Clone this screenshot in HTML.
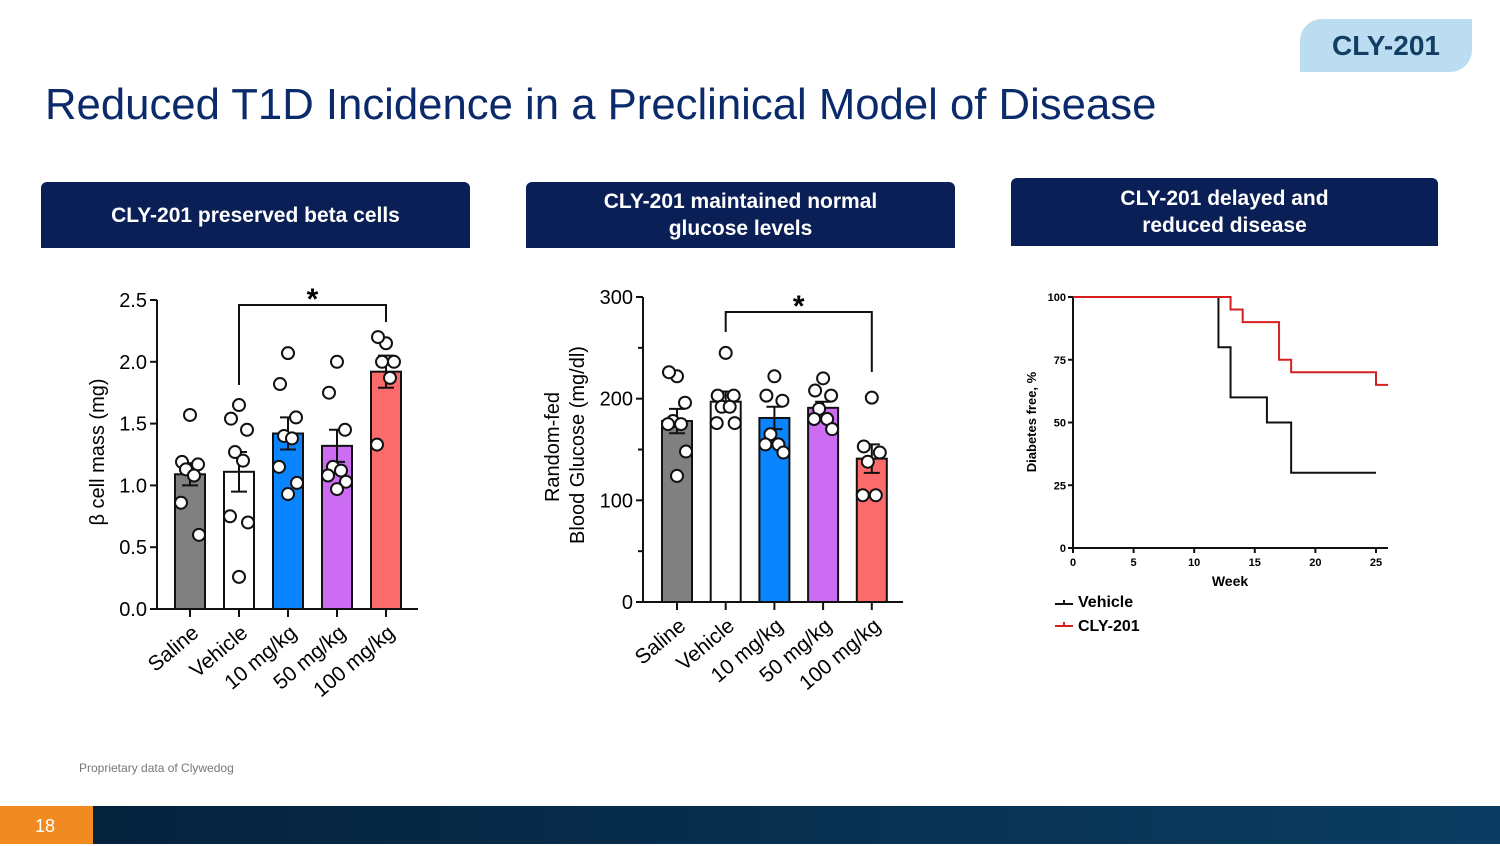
<!DOCTYPE html>
<html><head><meta charset="utf-8"><style>
body{margin:0;width:1500px;height:844px;position:relative;background:#fff;font-family:"Liberation Sans",sans-serif;overflow:hidden}
.hdr{position:absolute;background:#0b1f57;color:#fff;font-weight:bold;font-size:21px;text-align:center;display:flex;align-items:center;justify-content:center;line-height:27px;border-radius:6px 6px 0 0}
</style></head><body>
<div style="position:absolute;left:1300px;top:19px;width:172px;height:53px;background:#bcdcf1;border-radius:22px 0 22px 0;color:#123e63;font-weight:bold;font-size:28px;display:flex;align-items:center;justify-content:center">CLY-201</div>
<div style="position:absolute;left:45px;top:80px;font-size:43.7px;color:#0b2a6b;white-space:nowrap">Reduced T1D Incidence in a Preclinical Model of Disease</div>
<div class="hdr" style="left:41px;top:182px;width:429px;height:66px">CLY-201 preserved beta cells</div>
<div class="hdr" style="left:526px;top:182px;width:429px;height:66px">CLY-201 maintained normal<br>glucose levels</div>
<div class="hdr" style="left:1011px;top:178px;width:427px;height:68px">CLY-201 delayed and<br>reduced disease</div>
<div style="position:absolute;left:79px;top:761px;font-size:12px;color:#777">Proprietary data of Clywedog</div>
<div style="position:absolute;left:0;top:806px;width:1500px;height:38px;background:linear-gradient(90deg,#04203a,#0b3d62)"></div>
<div style="position:absolute;left:0;top:806px;width:93px;height:38px;background:#f28a22;color:#fff;font-size:18px;line-height:40px;padding-left:35px;box-sizing:border-box">18</div>
<svg id="svg" width="1500" height="844" style="position:absolute;left:0;top:0" font-family="Liberation Sans, sans-serif"></svg>
<script>
const cats=["Saline","Vehicle","10 mg/kg","50 mg/kg","100 mg/kg"];
const colors=["#808080","#ffffff","#0a84ff","#cc6cf2","#fb6b6b"];
const betaMeans=[1.09,1.11,1.42,1.32,1.92];
const betaErr=[0.09,0.16,0.13,0.13,0.13];
const betaPts=[[1.57,1.19,1.17,1.13,1.08,0.86,0.60],[1.65,1.54,1.45,1.27,1.2,0.75,0.7,0.26],[2.07,1.82,1.55,1.4,1.38,1.15,1.02,0.93],[2.0,1.75,1.45,1.15,1.12,1.08,1.03,0.97],[2.15,2.2,2.0,2.0,1.87,1.33]];
const betaTicks=[0,0.5,1.0,1.5,2.0,2.5];
const gluMeans=[178,197,181,191,141];
const gluErr=[12,10,11,6,14];
const gluPts=[[222,226,196,178,175,175,148,124],[245,203,203,192,192,176,176],[222,203,198,165,155,155,147],[220,208,203,190,180,180,170],[201,153,147,138,105,105]];
const gluTicks=[0,100,200,300];
const vehWeeks=[0,12,13,16,18,25];
const vehSurv=[100,80,60,50,30,30];
const clyWeeks=[0,13,14,17,18,25,26];
const clySurv=[100,95,90,75,70,65,65];
const kmTicksX=[0,5,10,15,20,25];
const kmTicksY=[0,25,50,75,100];
const svg=document.getElementById('svg');
const NS='http://www.w3.org/2000/svg';
function mk(t,a,txt){const e=document.createElementNS(NS,t);for(const k in a)e.setAttribute(k,a[k]);if(txt!==undefined)e.textContent=txt;svg.appendChild(e);return e;}
function barChart(p){
  const y=v=>p.y0-(v-p.vmin)/(p.vmax-p.vmin)*(p.y0-p.y1);
  const x=i=>p.x0+i*p.step;
  p.means.forEach((m,i)=>{
    const r=mk('rect',{x:x(i)-p.bw/2,y:y(m),width:p.bw,height:p.y0-y(m),fill:colors[i],stroke:'#111','stroke-width':2});
    
    
    const e=p.err[i];
    mk('path',{d:`M${x(i)},${y(m-e)}V${y(m+e)}M${x(i)-8},${y(m+e)}H${x(i)+8}M${x(i)-8},${y(m-e)}H${x(i)+8}`,stroke:'#111','stroke-width':2,fill:'none'});
    p.pts[i].forEach((v,j)=>{
      const off=[0,-8,8,-4,4,-9,9,0][j%8];
      const c=mk('circle',{cx:x(i)+off,cy:y(v),r:6,fill:'#fff',stroke:'#111','stroke-width':2});
      
      
    });
    mk('path',{d:`M${x(i)},${p.y0}v8`,stroke:'#111','stroke-width':2});
    const t=mk('text',{x:x(i)+10,y:p.y0+26,'font-size':21,'text-anchor':'end',transform:`rotate(-40 ${x(i)+10} ${p.y0+26})`},cats[i]);
    
    
  });
  mk('path',{d:`M${p.ax},${p.y1}V${p.y0}H${p.xend}`,stroke:'#111','stroke-width':2,fill:'none'});
  p.ticks.forEach(v=>{mk('path',{d:`M${p.ax-7},${y(v)}H${p.ax}`,stroke:'#111','stroke-width':2});
    mk('text',{x:p.ax-10,y:y(v)+7,'font-size':20,'text-anchor':'end'},p.fmt(v));});
  if(p.minor)p.minor.forEach(v=>mk('path',{d:`M${p.ax-5},${y(v)}H${p.ax}`,stroke:'#111','stroke-width':2}));
  const bx=p.brk;
  mk('path',{d:`M${x(1)},${bx[1]}V${bx[0]}H${x(4)}V${bx[2]}`,stroke:'#111','stroke-width':2,fill:'none'});
  mk('text',{x:(x(1)+x(4))/2,y:bx[0]+4,'font-size':30,'font-weight':'bold','text-anchor':'middle'},'*');
}
barChart({id:'beta',x0:190,step:49,bw:30,y0:609,y1:300,vmin:0,vmax:2.5,ax:157,xend:418,means:betaMeans,err:betaErr,pts:betaPts,ticks:betaTicks,fmt:v=>v.toFixed(1),brk:[305,385,322]});
mk('text',{x:104,y:452,'font-size':20,'text-anchor':'middle',transform:'rotate(-90 104 452)'},'β cell mass (mg)');
barChart({id:'glucose',x0:677,step:48.7,bw:30,y0:602,y1:297,vmin:0,vmax:300,ax:643,xend:903,means:gluMeans,err:gluErr,pts:gluPts,ticks:gluTicks,minor:[50,150,250],fmt:v=>String(v),brk:[312,332,372]});
mk('text',{x:559,y:447,'font-size':20,'text-anchor':'middle',transform:'rotate(-90 559 447)'},'Random-fed');
mk('text',{x:584,y:445,'font-size':20,'text-anchor':'middle',transform:'rotate(-90 584 445)'},'Blood Glucose (mg/dl)');
const kx=w=>1073+w*12.12, ky=v=>548-v*2.51;
mk('path',{d:`M1073,297V548H1388`,stroke:'#111','stroke-width':2,fill:'none'});
kmTicksX.forEach(w=>{mk('path',{d:`M${kx(w)},548v5`,stroke:'#111','stroke-width':2});mk('text',{x:kx(w),y:566,'font-size':11,'font-weight':'bold','text-anchor':'middle'},w);});
kmTicksY.forEach(v=>{mk('path',{d:`M1068,${ky(v)}H1073`,stroke:'#111','stroke-width':2});mk('text',{x:1066,y:ky(v)+4,'font-size':11,'font-weight':'bold','text-anchor':'end'},v);});
mk('text',{x:1230,y:586,'font-size':14,'font-weight':'bold','text-anchor':'middle'},'Week');
mk('text',{x:1036,y:422,'font-size':13,'font-weight':'bold','text-anchor':'middle',transform:'rotate(-90 1036 422)'},'Diabetes free, %');
function step(ws,vs,col,nm){let d=`M${kx(ws[0])},${ky(vs[0])}`;for(let i=1;i<ws.length;i++){d+=`H${kx(ws[i])}V${ky(vs[i])}`;}
  const p=mk('path',{d,stroke:col,'stroke-width':2,fill:'none'});
  
  }
step(vehWeeks,vehSurv,'#111','vehicle-curve');
step(clyWeeks,clySurv,'#d42020','cly-201-curve');
mk('path',{d:'M1055,604H1073M1064,604v-4',stroke:'#111','stroke-width':2});
mk('text',{x:1078,y:607,'font-size':16,'font-weight':'bold'},'Vehicle');
mk('path',{d:'M1055,626H1073M1064,626v-4',stroke:'#d42020','stroke-width':2});
mk('text',{x:1078,y:631,'font-size':16,'font-weight':'bold'},'CLY-201');
</script>
</body></html>
